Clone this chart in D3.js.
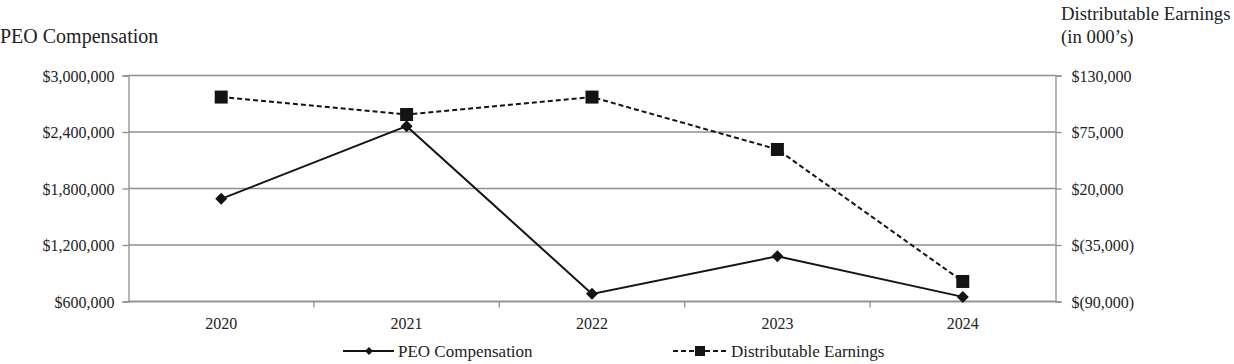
<!DOCTYPE html>
<html><head><meta charset="utf-8">
<script src="https://cdn.jsdelivr.net/npm/d3@7"></script>
<style>body{margin:0;background:#fff}svg{display:block}svg text{font-family:"Liberation Serif","Times New Roman",serif !important}</style>
</head><body><svg id="c" width="1234" height="364"></svg>
<script>
const years = ["2020","2021","2022","2023","2024"];
const peoComp = [1690000, 2462000, 681000, 1081000, 649000];
const distEarn = [109000, 92000, 109000, 58000, -70500];
const leftTicks = [600000, 1200000, 1800000, 2400000, 3000000];
const rightTicks = [-90000, -35000, 20000, 75000, 130000];

const svg = d3.select("#c");
const L = 128.5, R = 1055.5, T = 75.5, B = 301.5;
const x = d3.scaleBand().domain(years).range([L, R]);
const yL = d3.scaleLinear().domain([600000, 3000000]).range([B, T]);
const yR = d3.scaleLinear().domain([-90000, 130000]).range([B, T]);
const grid = "#8f8f8f", ink = "#141414";

svg.append("g").selectAll("line").data(leftTicks).join("line")
  .attr("x1", L).attr("x2", R).attr("y1", d => yL(d)).attr("y2", d => yL(d))
  .attr("stroke", grid).attr("stroke-width", 1.3);

const fmtL = d => "$" + d3.format(",")(d);
const fmtR = d => d < 0 ? "$(" + d3.format(",")(-d) + ")" : "$" + d3.format(",")(d);

const gl = svg.append("g").attr("transform", `translate(${L},0)`)
  .call(d3.axisLeft(yL).tickValues(leftTicks).tickFormat(fmtL).tickSize(6).tickPadding(8));
const gr = svg.append("g").attr("transform", `translate(${R},0)`)
  .call(d3.axisRight(yR).tickValues(rightTicks).tickFormat(fmtR).tickSize(6).tickPadding(10));
const gx = svg.append("g").attr("transform", `translate(0,${B})`)
  .call(d3.axisBottom(x).tickSize(0).tickPadding(16));
svg.append("g").selectAll("line").data(years.slice(1)).join("line")
  .attr("x1", d => x(d)).attr("x2", d => x(d)).attr("y1", B).attr("y2", B + 6)
  .attr("stroke", grid).attr("stroke-width", 1.3);

[gl, gr, gx].forEach(g => {
  g.attr("font-family", null).attr("font-size", null);
  g.selectAll("path, line").attr("stroke", grid).attr("stroke-width", 1.3);
  g.selectAll("text").attr("fill", "#222").style("font-size", "16px");
});
gx.select(".domain").attr("d", `M${L},0H${R}`);
gl.selectAll("text").attr("dy", "0.35em");
gr.selectAll("text").attr("dy", "0.35em");

svg.append("text").attr("x", 0).attr("y", 43).text("PEO Compensation")
  .style("font-size", "20px").attr("fill", "#222");
svg.append("text").attr("x", 1061).attr("y", 20).text("Distributable Earnings")
  .style("font-size", "18.8px").attr("fill", "#222");
svg.append("text").attr("x", 1061).attr("y", 43).text("(in 000\u2019s)")
  .style("font-size", "18.8px").attr("fill", "#222");

const cx = d => x(d) + x.bandwidth() / 2;
const lineL = d3.line().x((d, i) => cx(years[i])).y(d => yL(d));
const lineR = d3.line().x((d, i) => cx(years[i])).y(d => yR(d));

svg.append("path").attr("d", lineR(distEarn)).attr("fill", "none")
  .attr("stroke", ink).attr("stroke-width", 2).attr("stroke-dasharray", "5,3");
svg.append("path").attr("d", lineL(peoComp)).attr("fill", "none")
  .attr("stroke", ink).attr("stroke-width", 2);

function diamondPath(s){ return `M0,${-s}L${s},0L0,${s}L${-s},0Z`; }
svg.append("g").selectAll("path").data(peoComp).join("path")
  .attr("transform", (d, i) => `translate(${cx(years[i])},${yL(d)})`)
  .attr("d", diamondPath(6)).attr("fill", ink);
svg.append("g").selectAll("rect").data(distEarn).join("rect")
  .attr("x", (d, i) => cx(years[i]) - 6.5).attr("y", d => yR(d) - 6.5)
  .attr("width", 13).attr("height", 13).attr("fill", ink);

const ly = 351;
const lg = svg.append("g");
lg.append("line").attr("x1", 343).attr("x2", 394).attr("y1", ly).attr("y2", ly)
  .attr("stroke", ink).attr("stroke-width", 2);
lg.append("path").attr("transform", `translate(369,${ly})`).attr("d", diamondPath(4)).attr("fill", ink);
lg.append("text").attr("x", 398).attr("y", ly + 6).text("PEO Compensation")
  .style("font-size", "17px").attr("fill", "#222");
lg.append("line").attr("x1", 673).attr("x2", 727).attr("y1", ly).attr("y2", ly)
  .attr("stroke", ink).attr("stroke-width", 2).attr("stroke-dasharray", "5,3");
lg.append("rect").attr("x", 695).attr("y", ly - 5).attr("width", 10).attr("height", 10).attr("fill", ink);
lg.append("text").attr("x", 731).attr("y", ly + 6).text("Distributable Earnings")
  .style("font-size", "17px").attr("fill", "#222");
</script></body></html>
